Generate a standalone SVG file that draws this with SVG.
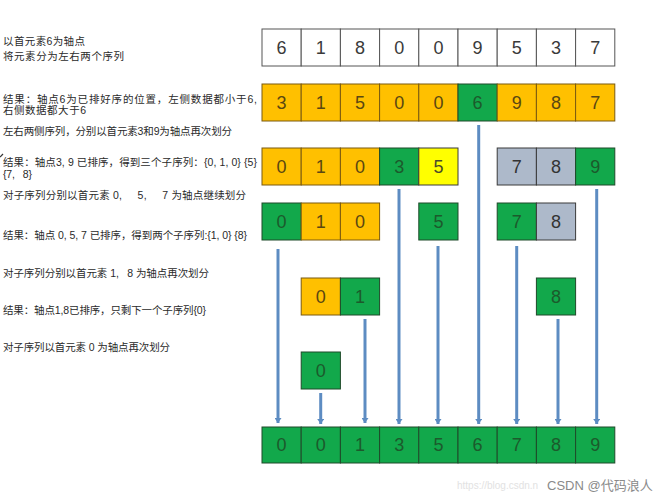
<svg xmlns="http://www.w3.org/2000/svg" width="664" height="500" viewBox="0 0 664 500">
<defs>
<style>
.lbl{font-family:"Liberation Sans","Noto Sans CJK SC",sans-serif;font-size:10.5px;fill:#2a2a2a;white-space:pre}
.c rect{stroke:#3a3a3a;stroke-width:1}
.c text{font-family:"Liberation Sans","Noto Sans CJK SC",sans-serif;font-size:18px;text-anchor:middle;dominant-baseline:central}
.w rect{fill:#ffffff;stroke:#555}
.w text{fill:#3a3a3a}
.o rect{fill:#FFC000;stroke:#7a5a10}
.o text{fill:#5a4712}
.g rect{fill:#12A84B;stroke:#1f4a2a}
.g text{fill:#1c5a2c}
.y rect{fill:#FFFF00}
.y text{fill:#4a4a2a}
.s rect{fill:#ADB9CA}
.s text{fill:#333}
.arr line{stroke:#5D8CC2;stroke-width:3;marker-end:url(#ah)}
.wm{font-family:"Liberation Sans","Noto Sans CJK SC",sans-serif}
</style>
<marker id="ah" markerUnits="userSpaceOnUse" markerWidth="6" markerHeight="7" refX="5" refY="3.5" orient="auto">
<path d="M0,0 L5,3.5 L0,7 z" fill="#5D8CC2"/>
</marker>
</defs>
<rect width="664" height="500" fill="#ffffff"/>

<g id="labels" xml:space="preserve">
<text class="lbl" x="3" y="45" textLength="82">以首元素6为轴点</text>
<text class="lbl" x="3" y="60" textLength="121">将元素分为左右两个序列</text>
<text class="lbl" x="3" y="103" textLength="254">结果：轴点6为已排好序的位置，左侧数据都小于6,</text>
<text class="lbl" x="3" y="114" textLength="83">右侧数据都大于6</text>
<text class="lbl" x="3" y="135" textLength="229">左右两侧序列，分别以首元素3和9为轴点再次划分</text>
<text class="lbl" x="3" y="166" textLength="254">结果：轴点3, 9 已排序，得到三个子序列：{0, 1, 0} {5}</text>
<text class="lbl" x="3" y="178" textLength="29">{7,   8}</text>
<text class="lbl" x="3" y="199" textLength="243">对子序列分别以首元素 0,     5,     7 为轴点继续划分</text>
<text class="lbl" x="3" y="239" textLength="244">结果：轴点 0, 5, 7 已排序，得到两个子序列:{1, 0} {8}</text>
<text class="lbl" x="3" y="277" textLength="206">对子序列分别以首元素 1,   8 为轴点再次划分</text>
<text class="lbl" x="3" y="314" textLength="203">结果：轴点1,8已排序，只剩下一个子序列{0}</text>
<text class="lbl" x="3" y="351" textLength="167">对子序列以首元素 0 为轴点再次划分</text>
<path d="M0,157 L3,154" stroke="#333" stroke-width="1.2"/>
</g>

<g id="connectors" class="arr">
<line x1="278" y1="249" x2="278" y2="423"/>
<line x1="320.7" y1="393" x2="320.7" y2="424"/>
<line x1="365" y1="319" x2="365" y2="423"/>
<line x1="399" y1="189" x2="399" y2="424"/>
<line x1="438" y1="246" x2="438" y2="424"/>
<line x1="478.7" y1="125" x2="478.7" y2="424"/>
<line x1="516.7" y1="246" x2="516.7" y2="424"/>
<line x1="558" y1="319" x2="558" y2="424"/>
<line x1="596.7" y1="189" x2="596.7" y2="424"/>
</g>

<g id="row1" class="c">
<g class="w"><rect x="262" y="29" width="39.2" height="37"/><text x="281.6" y="47.5">6</text></g>
<g class="w"><rect x="301.2" y="29" width="39.2" height="37"/><text x="320.8" y="47.5">1</text></g>
<g class="w"><rect x="340.4" y="29" width="39.2" height="37"/><text x="360" y="47.5">8</text></g>
<g class="w"><rect x="379.6" y="29" width="39.2" height="37"/><text x="399.2" y="47.5">0</text></g>
<g class="w"><rect x="418.8" y="29" width="39.2" height="37"/><text x="438.4" y="47.5">0</text></g>
<g class="w"><rect x="458" y="29" width="39.2" height="37"/><text x="477.6" y="47.5">9</text></g>
<g class="w"><rect x="497.2" y="29" width="39.2" height="37"/><text x="516.8" y="47.5">5</text></g>
<g class="w"><rect x="536.4" y="29" width="39.2" height="37"/><text x="556" y="47.5">3</text></g>
<g class="w"><rect x="575.6" y="29" width="39.2" height="37"/><text x="595.2" y="47.5">7</text></g>
</g>

<g id="row2" class="c">
<g class="o"><rect x="262" y="84" width="39.2" height="37"/><text x="281.6" y="102.5">3</text></g>
<g class="o"><rect x="301.2" y="84" width="39.2" height="37"/><text x="320.8" y="102.5">1</text></g>
<g class="o"><rect x="340.4" y="84" width="39.2" height="37"/><text x="360" y="102.5">5</text></g>
<g class="o"><rect x="379.6" y="84" width="39.2" height="37"/><text x="399.2" y="102.5">0</text></g>
<g class="o"><rect x="418.8" y="84" width="39.2" height="37"/><text x="438.4" y="102.5">0</text></g>
<g class="g"><rect x="458" y="84" width="39.2" height="37"/><text x="477.6" y="102.5">6</text></g>
<g class="o"><rect x="497.2" y="84" width="39.2" height="37"/><text x="516.8" y="102.5">9</text></g>
<g class="o"><rect x="536.4" y="84" width="39.2" height="37"/><text x="556" y="102.5">8</text></g>
<g class="o"><rect x="575.6" y="84" width="39.2" height="37"/><text x="595.2" y="102.5">7</text></g>
</g>

<g id="row3" class="c">
<g class="o"><rect x="262" y="148" width="39.2" height="37"/><text x="281.6" y="166.5">0</text></g>
<g class="o"><rect x="301.2" y="148" width="39.2" height="37"/><text x="320.8" y="166.5">1</text></g>
<g class="o"><rect x="340.4" y="148" width="39.2" height="37"/><text x="360" y="166.5">0</text></g>
<g class="g"><rect x="379.6" y="148" width="39.2" height="37"/><text x="399.2" y="166.5">3</text></g>
<g class="y"><rect x="418.8" y="148" width="39.2" height="37"/><text x="438.4" y="166.5">5</text></g>
<g class="s"><rect x="497.2" y="148" width="39.2" height="37"/><text x="516.8" y="166.5">7</text></g>
<g class="s"><rect x="536.4" y="148" width="39.2" height="37"/><text x="556" y="166.5">8</text></g>
<g class="g"><rect x="575.6" y="148" width="39.2" height="37"/><text x="595.2" y="166.5">9</text></g>
</g>

<g id="row4" class="c">
<g class="g"><rect x="262" y="203" width="39.2" height="37"/><text x="281.6" y="221.5">0</text></g>
<g class="o"><rect x="301.2" y="203" width="39.2" height="37"/><text x="320.8" y="221.5">1</text></g>
<g class="o"><rect x="340.4" y="203" width="39.2" height="37"/><text x="360" y="221.5">0</text></g>
<g class="g"><rect x="418.8" y="203" width="39.2" height="37"/><text x="438.4" y="221.5">5</text></g>
<g class="g"><rect x="497.2" y="203" width="39.2" height="37"/><text x="516.8" y="221.5">7</text></g>
<g class="s"><rect x="536.4" y="203" width="39.2" height="37"/><text x="556" y="221.5">8</text></g>
</g>

<g id="row5" class="c">
<g class="o"><rect x="301.2" y="278" width="39.2" height="37"/><text x="320.8" y="296.5">0</text></g>
<g class="g"><rect x="340.4" y="278" width="39.2" height="37"/><text x="360" y="296.5">1</text></g>
<g class="g"><rect x="536.4" y="278" width="39.2" height="37"/><text x="556" y="296.5">8</text></g>
</g>

<g id="row6" class="c">
<g class="g"><rect x="301.2" y="352" width="39.2" height="37"/><text x="320.8" y="370.5">0</text></g>
</g>

<g id="row7" class="c">
<g class="g"><rect x="262" y="427" width="39.2" height="36"/><text x="281.6" y="445">0</text></g>
<g class="g"><rect x="301.2" y="427" width="39.2" height="36"/><text x="320.8" y="445">0</text></g>
<g class="g"><rect x="340.4" y="427" width="39.2" height="36"/><text x="360" y="445">1</text></g>
<g class="g"><rect x="379.6" y="427" width="39.2" height="36"/><text x="399.2" y="445">3</text></g>
<g class="g"><rect x="418.8" y="427" width="39.2" height="36"/><text x="438.4" y="445">5</text></g>
<g class="g"><rect x="458" y="427" width="39.2" height="36"/><text x="477.6" y="445">6</text></g>
<g class="g"><rect x="497.2" y="427" width="39.2" height="36"/><text x="516.8" y="445">7</text></g>
<g class="g"><rect x="536.4" y="427" width="39.2" height="36"/><text x="556" y="445">8</text></g>
<g class="g"><rect x="575.6" y="427" width="39.2" height="36"/><text x="595.2" y="445">9</text></g>
</g>

<g id="watermark">
<text class="wm" x="457" y="489" font-size="10" fill="#e2e2e2">https://blog.csdn.n</text>
<text class="wm" x="547" y="490" font-size="13" fill="#8a8a8a">CSDN @代码浪人</text>
</g>
</svg>
